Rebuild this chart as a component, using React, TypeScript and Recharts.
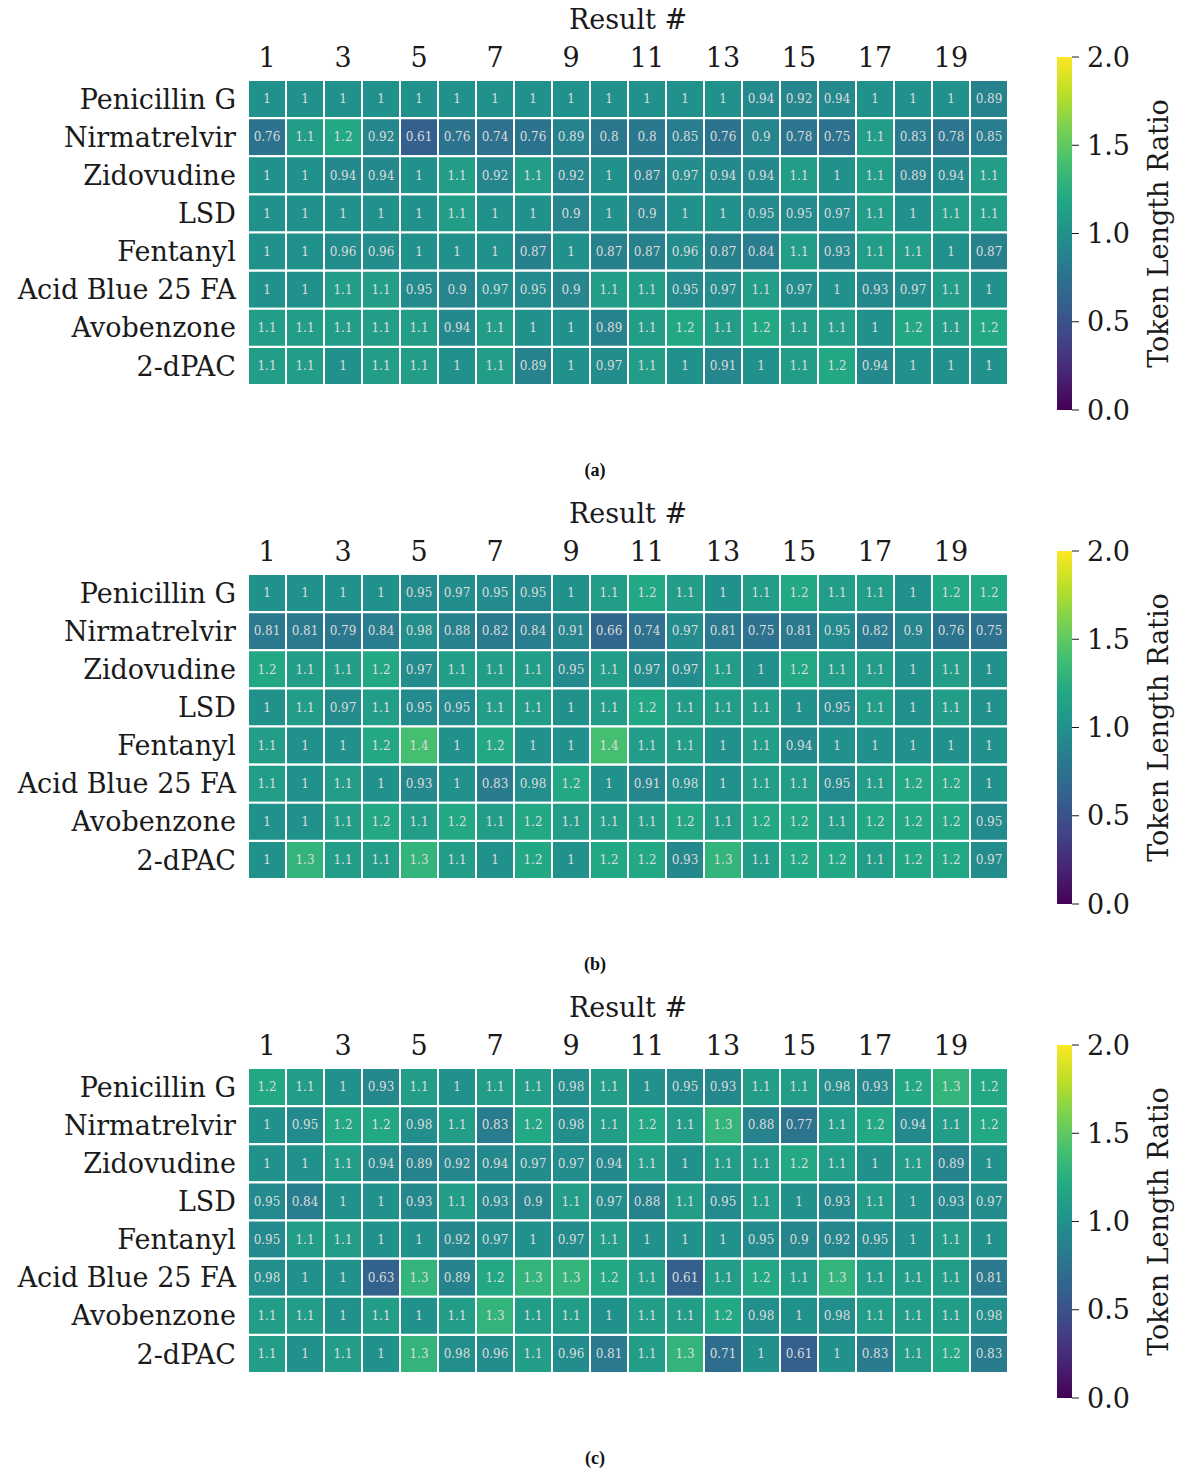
import { BarChart, Bar, XAxis, YAxis, Cell, LabelList } from 'recharts'

const SERIF = '"DejaVu Serif", serif'

const drugs = ['Penicillin G', 'Nirmatrelvir', 'Zidovudine', 'LSD', 'Fentanyl', 'Acid Blue 25 FA', 'Avobenzone', '2-dPAC']
const resultTicks = [1, 3, 5, 7, 9, 11, 13, 15, 17, 19]
const cbarTicks = [0, 0.5, 1, 1.5, 2]
const captions = ['(a)', '(b)', '(c)']

const panelA = [
  [1, 1, 1, 1, 1, 1, 1, 1, 1, 1, 1, 1, 1, 0.94, 0.92, 0.94, 1, 1, 1, 0.89],
  [0.76, 1.1, 1.2, 0.92, 0.61, 0.76, 0.74, 0.76, 0.89, 0.8, 0.8, 0.85, 0.76, 0.9, 0.78, 0.75, 1.1, 0.83, 0.78, 0.85],
  [1, 1, 0.94, 0.94, 1, 1.1, 0.92, 1.1, 0.92, 1, 0.87, 0.97, 0.94, 0.94, 1.1, 1, 1.1, 0.89, 0.94, 1.1],
  [1, 1, 1, 1, 1, 1.1, 1, 1, 0.9, 1, 0.9, 1, 1, 0.95, 0.95, 0.97, 1.1, 1, 1.1, 1.1],
  [1, 1, 0.96, 0.96, 1, 1, 1, 0.87, 1, 0.87, 0.87, 0.96, 0.87, 0.84, 1.1, 0.93, 1.1, 1.1, 1, 0.87],
  [1, 1, 1.1, 1.1, 0.95, 0.9, 0.97, 0.95, 0.9, 1.1, 1.1, 0.95, 0.97, 1.1, 0.97, 1, 0.93, 0.97, 1.1, 1],
  [1.1, 1.1, 1.1, 1.1, 1.1, 0.94, 1.1, 1, 1, 0.89, 1.1, 1.2, 1.1, 1.2, 1.1, 1.1, 1, 1.2, 1.1, 1.2],
  [1.1, 1.1, 1, 1.1, 1.1, 1, 1.1, 0.89, 1, 0.97, 1.1, 1, 0.91, 1, 1.1, 1.2, 0.94, 1, 1, 1],
]

const panelB = [
  [1, 1, 1, 1, 0.95, 0.97, 0.95, 0.95, 1, 1.1, 1.2, 1.1, 1, 1.1, 1.2, 1.1, 1.1, 1, 1.2, 1.2],
  [0.81, 0.81, 0.79, 0.84, 0.98, 0.88, 0.82, 0.84, 0.91, 0.66, 0.74, 0.97, 0.81, 0.75, 0.81, 0.95, 0.82, 0.9, 0.76, 0.75],
  [1.2, 1.1, 1.1, 1.2, 0.97, 1.1, 1.1, 1.1, 0.95, 1.1, 0.97, 0.97, 1.1, 1, 1.2, 1.1, 1.1, 1, 1.1, 1],
  [1, 1.1, 0.97, 1.1, 0.95, 0.95, 1.1, 1.1, 1, 1.1, 1.2, 1.1, 1.1, 1.1, 1, 0.95, 1.1, 1, 1.1, 1],
  [1.1, 1, 1, 1.2, 1.4, 1, 1.2, 1, 1, 1.4, 1.1, 1.1, 1, 1.1, 0.94, 1, 1, 1, 1, 1],
  [1.1, 1, 1.1, 1, 0.93, 1, 0.83, 0.98, 1.2, 1, 0.91, 0.98, 1, 1.1, 1.1, 0.95, 1.1, 1.2, 1.2, 1],
  [1, 1, 1.1, 1.2, 1.1, 1.2, 1.1, 1.2, 1.1, 1.1, 1.1, 1.2, 1.1, 1.2, 1.2, 1.1, 1.2, 1.2, 1.2, 0.95],
  [1, 1.3, 1.1, 1.1, 1.3, 1.1, 1, 1.2, 1, 1.2, 1.2, 0.93, 1.3, 1.1, 1.2, 1.2, 1.1, 1.2, 1.2, 0.97],
]

const panelC = [
  [1.2, 1.1, 1, 0.93, 1.1, 1, 1.1, 1.1, 0.98, 1.1, 1, 0.95, 0.93, 1.1, 1.1, 0.98, 0.93, 1.2, 1.3, 1.2],
  [1, 0.95, 1.2, 1.2, 0.98, 1.1, 0.83, 1.2, 0.98, 1.1, 1.2, 1.1, 1.3, 0.88, 0.77, 1.1, 1.2, 0.94, 1.1, 1.2],
  [1, 1, 1.1, 0.94, 0.89, 0.92, 0.94, 0.97, 0.97, 0.94, 1.1, 1, 1.1, 1.1, 1.2, 1.1, 1, 1.1, 0.89, 1],
  [0.95, 0.84, 1, 1, 0.93, 1.1, 0.93, 0.9, 1.1, 0.97, 0.88, 1.1, 0.95, 1.1, 1, 0.93, 1.1, 1, 0.93, 0.97],
  [0.95, 1.1, 1.1, 1, 1, 0.92, 0.97, 1, 0.97, 1.1, 1, 1, 1, 0.95, 0.9, 0.92, 0.95, 1, 1.1, 1],
  [0.98, 1, 1, 0.63, 1.3, 0.89, 1.2, 1.3, 1.3, 1.2, 1.1, 0.61, 1.1, 1.2, 1.1, 1.3, 1.1, 1.1, 1.1, 0.81],
  [1.1, 1.1, 1, 1.1, 1, 1.1, 1.3, 1.1, 1.1, 1, 1.1, 1.1, 1.2, 0.98, 1, 0.98, 1.1, 1.1, 1.1, 0.98],
  [1.1, 1, 1.1, 1, 1.3, 0.98, 0.96, 1.1, 0.96, 0.81, 1.1, 1.3, 0.71, 1, 0.61, 1, 0.83, 1.1, 1.2, 0.83],
]

// viridis colormap stops (0..1)
const VIRIDIS = ['#440154', '#482475', '#414487', '#355f8d', '#2a788e', '#21918c', '#22a884', '#44bf70', '#7ad151', '#bddf26', '#fde725']

function hex(c: string) {
  return [1, 3, 5].map(i => parseInt(c.slice(i, i + 2), 16))
}

function viridis(v: number, vmin = 0, vmax = 2) {
  const t = Math.max(0, Math.min(1, (v - vmin) / (vmax - vmin))) * (VIRIDIS.length - 1)
  const i = Math.min(VIRIDIS.length - 2, Math.floor(t))
  const f = t - i
  const a = hex(VIRIDIS[i]), b = hex(VIRIDIS[i + 1])
  const m = a.map((x, k) => Math.round(x + (b[k] - x) * f))
  return `rgb(${m[0]},${m[1]},${m[2]})`
}

const fmt = (v: any) => String(Number(Number(v).toPrecision(2)))

const FS = 27

function Heatmap({ values }: { values: number[][] }) {
  const data = drugs.map((name, r) => {
    const row: any = { name }
    values[r].forEach((v, c) => { row['c' + c] = 1; row['v' + c] = v })
    return row
  })
  const cols = values[0].map((_, c) => c)
  return (
    <BarChart width={1040} height={400} data={data} layout="vertical" barCategoryGap={0}
      margin={{ top: 0, right: 32, bottom: 15, left: 8 }}>
      <XAxis type="number" orientation="top" domain={[0, cols.length]} ticks={resultTicks.map(t => t - 0.5)}
        tickFormatter={v => String(v + 0.5)} height={80} tickLine={false} axisLine={false} tickSize={0} tickMargin={13}
        tick={{ fontSize: FS, fill: '#1a1a1a', fontFamily: SERIF }} interval={0}
        label={{ value: 'Result #', position: 'insideTop', offset: 10, fill: '#1a1a1a', fontSize: FS, fontFamily: SERIF }} />
      <YAxis type="category" dataKey="name" width={240} tickLine={false} axisLine={false} tickSize={0} tickMargin={12}
        tick={{ fontSize: FS, fill: '#1a1a1a', fontFamily: SERIF }} interval={0} />
      {cols.map(c => (
        <Bar key={c} dataKey={'c' + c} stackId="s" isAnimationActive={false} stroke="#fff" strokeWidth={2}>
          {data.map((_, r) => <Cell key={r} fill={viridis(values[r][c])} />)}
          <LabelList dataKey={'v' + c} position="center" fill="#dcdcdc" fontSize={12} fontFamily={SERIF} formatter={fmt} />
        </Bar>
      ))}
    </BarChart>
  )
}

function Colorbar({ id }: { id: string }) {
  return (
    <BarChart width={204} height={390} data={[{ name: 'cb', v: 2 }]} barCategoryGap={0}
      margin={{ top: 17, right: 0, bottom: 20, left: 17 }}>
      <defs>
        <linearGradient id={id} x1="0" y1="1" x2="0" y2="0">
          {VIRIDIS.map((c, i) => <stop key={i} offset={`${(i / (VIRIDIS.length - 1)) * 100}%`} stopColor={c} />)}
        </linearGradient>
      </defs>
      <XAxis dataKey="name" hide />
      <YAxis orientation="right" domain={[0, 2]} ticks={cbarTicks} tickFormatter={v => Number(v).toFixed(1)}
        width={172} axisLine={false} tickSize={7} tickMargin={8} stroke="#1a1a1a"
        tick={{ fontSize: FS, fill: '#1a1a1a', fontFamily: SERIF }} interval={0}
        label={{ value: 'Token Length Ratio', angle: -90, position: 'center', fill: '#1a1a1a', fontSize: FS, fontFamily: SERIF }} />
      <Bar dataKey="v" fill={`url(#${id})`} isAnimationActive={false} />
    </BarChart>
  )
}

const panels = [panelA, panelB, panelC]

export default function App() {
  return (
    <div style={{ position: 'absolute', left: 0, top: 0, width: 1200, height: 1484, overflow: 'hidden', background: '#fff' }}>
      {panels.map((vals, k) => {
        const oy = k * 494
        return (
          <div key={k}>
            <div style={{ position: 'absolute', left: 0, top: oy }}>
              <Heatmap values={vals} />
            </div>
            <div style={{ position: 'absolute', left: 1040, top: oy + 40 }}>
              <Colorbar id={'vir' + k} />
            </div>
            <div style={{ position: 'absolute', left: 545, width: 100, top: oy + 460, textAlign: 'center',
              fontFamily: '"Liberation Serif", serif', fontWeight: 'bold', fontSize: 18, color: '#111' }}>
              {captions[k]}
            </div>
          </div>
        )
      })}
    </div>
  )
}
